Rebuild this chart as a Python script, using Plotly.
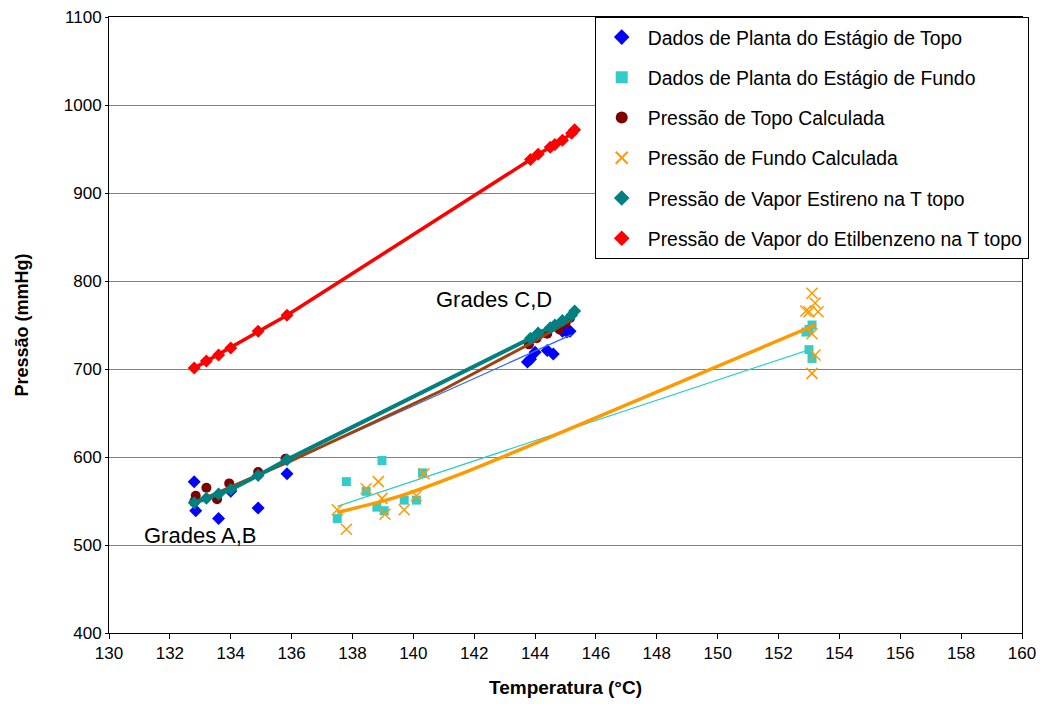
import plotly.graph_objects as go

# ---- data ----
top_blue_T = [132.8, 132.85, 133.6, 134.0, 134.9, 135.85, 143.75, 143.85, 144.0, 144.4, 144.6, 144.9, 145.05, 145.15]
top_blue_P = [572, 539, 530, 561, 542, 581, 708, 711, 719, 721, 717, 743, 742, 743]

bot_cyan_T = [137.5, 137.8, 138.45, 138.8, 138.97, 139.04, 139.7, 140.1, 140.3, 152.9, 153.0, 153.1, 153.0, 153.1]
bot_cyan_P = [530, 572, 561, 543, 596, 539, 551, 551, 582, 742, 745, 750, 722, 712]

top_calc_T = [132.8, 132.85, 133.2, 133.55, 133.95, 134.9, 135.8, 143.8, 144.05, 144.4, 144.8, 145.0, 145.15]
top_calc_P = [549, 556, 565, 552, 570, 583, 598, 728, 735, 740, 745, 752, 758]

bot_calc_T = [137.5, 137.8, 138.45, 138.85, 138.97, 139.07, 139.7, 140.1, 140.35,
              152.9, 153.1, 153.2, 153.0, 153.3, 153.1, 153.2, 153.1]
bot_calc_P = [540, 518, 564, 572, 553, 535, 540, 556, 581,
              766, 786, 775, 765, 765, 740, 716, 695]

vap_T = [132.8, 133.2, 133.6, 134.0, 134.9, 135.85, 143.85, 144.1, 144.5, 144.65, 144.9, 145.2, 145.3]
styrene_P = [548, 553, 558, 563, 579, 597, 735, 741, 747, 750, 755, 761, 766]
ethylbenzene_P = [701, 709, 716, 724, 743, 761, 938, 944, 952, 955, 960, 968, 972]

# trend lines
trend_blue_T = [132.8, 145.2]
trend_blue_P = [546, 739]
trend_cyan_T = [137.5, 153.1]
trend_cyan_P = [544, 723]
trend_brown_T = [132.8, 136.0, 140.9, 143.9, 145.2]
trend_brown_P = [548, 596, 675, 730, 756]
trend_orange_T = [137.5, 139.5, 141.5, 145.0, 153.2]
trend_orange_P = [537, 555, 580, 630, 750]

x_ticks = list(range(130, 161, 2))
y_ticks = list(range(400, 1101, 100))

FONT = "Liberation Sans, Arial, sans-serif"

fig = go.Figure()

fig.add_trace(go.Scatter(x=top_blue_T, y=top_blue_P, mode="markers", name="Dados de Planta do Estágio de Topo",
                         marker=dict(symbol="diamond", size=10, color="#0000FF"), legendgroup="a"))
fig.add_trace(go.Scatter(x=bot_cyan_T, y=bot_cyan_P, mode="markers", name="Dados de Planta do Estágio de Fundo",
                         marker=dict(symbol="square", size=9, color="#33CCCC"), legendgroup="b"))
fig.add_trace(go.Scatter(x=top_calc_T, y=top_calc_P, mode="markers", name="Pressão de Topo Calculada",
                         marker=dict(symbol="circle", size=10, color="#800000"), legendgroup="c"))

fig.add_trace(go.Scatter(x=trend_blue_T, y=trend_blue_P, mode="lines", showlegend=False,
                         line=dict(color="#3366FF", width=1.3), hoverinfo="skip"))
fig.add_trace(go.Scatter(x=trend_cyan_T, y=trend_cyan_P, mode="lines", showlegend=False,
                         line=dict(color="#33CCCC", width=1.3), hoverinfo="skip"))
fig.add_trace(go.Scatter(x=trend_orange_T, y=trend_orange_P, mode="lines", showlegend=False,
                         line=dict(color="#FF9900", width=3.5, shape="spline", smoothing=0.8), hoverinfo="skip"))
fig.add_trace(go.Scatter(x=trend_brown_T, y=trend_brown_P, mode="lines", showlegend=False,
                         line=dict(color="#A0400A", width=3), hoverinfo="skip"))

fig.add_trace(go.Scatter(x=bot_calc_T, y=bot_calc_P, mode="markers", name="Pressão de Fundo Calculada",
                         marker=dict(symbol="x-thin", size=11, color="#FF9900",
                                     line=dict(color="#FF9900", width=1.5)), legendgroup="d"))

fig.add_trace(go.Scatter(x=vap_T, y=styrene_P, mode="lines", showlegend=False,
                         line=dict(color="#008080", width=4), hoverinfo="skip"))
fig.add_trace(go.Scatter(x=vap_T, y=styrene_P, mode="markers", name="Pressão de Vapor Estireno na T topo",
                         marker=dict(symbol="diamond", size=10, color="#008080"), legendgroup="e"))
fig.add_trace(go.Scatter(x=vap_T, y=ethylbenzene_P, mode="lines", showlegend=False,
                         line=dict(color="#FF0000", width=3.5), hoverinfo="skip"))
fig.add_trace(go.Scatter(x=vap_T, y=ethylbenzene_P, mode="markers", name="Pressão de Vapor do Etilbenzeno na T topo",
                         marker=dict(symbol="diamond", size=10, color="#FF0000"), legendgroup="f"))

fig.add_annotation(x=133.0, y=511, text="Grades A,B", showarrow=False,
                   font=dict(family=FONT, size=22, color="black"))
fig.add_annotation(x=142.65, y=779, text="Grades C,D", showarrow=False,
                   font=dict(family=FONT, size=22, color="black"))

# page body has an 8px margin: figure is sized/margined to compensate
fig.update_layout(
    width=1045, height=696,
    margin=dict(l=101, r=31, t=9, b=71, autoexpand=False),
    paper_bgcolor="white", plot_bgcolor="white",
    font=dict(family=FONT, size=17, color="black"),
    showlegend=True,
    legend=dict(x=0.532, y=1.0, xanchor="left", yanchor="top",
                bgcolor="white", bordercolor="black", borderwidth=1,
                font=dict(family=FONT, size=19.4, color="black"),
                traceorder="grouped", tracegroupgap=12,
                itemsizing="constant", itemwidth=42),
    xaxis=dict(range=[130, 160], tickvals=x_ticks, ticktext=[str(v) for v in x_ticks],
               showgrid=False, zeroline=False, showline=True, linecolor="black", linewidth=1,
               mirror=True, ticks="outside", ticklen=5, tickcolor="black",
               ticklabeloverflow="allow", automargin=False,
               title=dict(text="<b>Temperatura (°C)</b>", font=dict(family=FONT, size=19), standoff=18)),
    yaxis=dict(range=[400, 1100], tickvals=y_ticks, ticktext=[str(v) for v in y_ticks],
               showgrid=True, gridcolor="#808080", gridwidth=1, zeroline=False,
               showline=True, linecolor="black", linewidth=1, mirror=True,
               ticks="outside", ticklen=3, tickcolor="black",
               ticklabeloverflow="allow", automargin=False,
               title=dict(text="<b>Pressão (mmHg)</b>", font=dict(family=FONT, size=18), standoff=30)),
)

fig.write_html("out.html")
